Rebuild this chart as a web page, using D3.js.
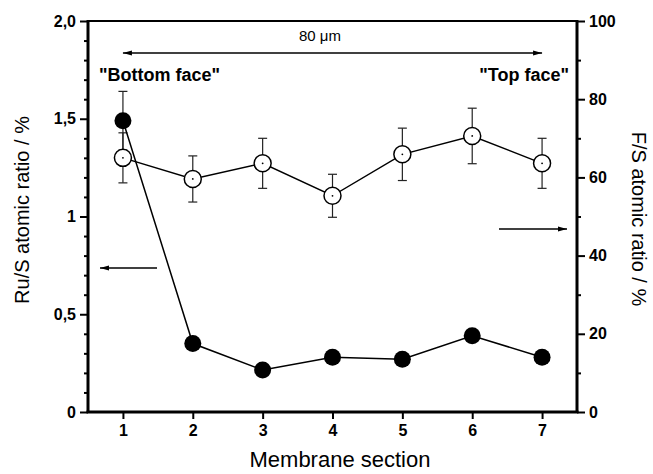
<!DOCTYPE html>
<html>
<head>
<meta charset="utf-8">
<script src="https://cdn.jsdelivr.net/npm/d3@7/dist/d3.min.js"></script>
<style>
  html, body { margin: 0; padding: 0; background: #fff; }
  svg { display: block; font-family: "Liberation Sans", Arial, sans-serif; }
</style>
</head>
<body>
<svg id="chart" width="653" height="474"></svg>
<script>
// Membrane sections along the thickness
const sections = [1, 2, 3, 4, 5, 6, 7];
// Ru/S atomic ratio (%), left axis, filled circles
const ruS = [1.49, 0.35, 0.215, 0.28, 0.27, 0.39, 0.28];
const ruSErr = [0.15, 0, 0, 0, 0, 0, 0];
// F/S atomic ratio (%), right axis, open circles
const fS = [65.0, 59.6, 63.6, 55.3, 65.9, 70.6, 63.6];
const fSErr = [6.4, 5.9, 6.4, 5.5, 6.7, 7.1, 6.4];
// Tick labels
const leftTicks = [0, 0.5, 1, 1.5, 2];
const leftTickLabels = ["0", "0,5", "1", "1,5", "2,0"];
const rightTicks = [0, 20, 40, 60, 80, 100];

const svg = d3.select("#chart");
const pLeft = 88, pRight = 577, pTop = 21, pBottom = 412;

const x = d3.scaleLinear().domain([0.5, 7.5]).range([pLeft, pRight]);
const yL = d3.scaleLinear().domain([0, 2]).range([pBottom, pTop]);
const yR = d3.scaleLinear().domain([0, 100]).range([pBottom, pTop]);

const defs = svg.append("defs");
function marker(id, orient) {
  defs.append("marker")
    .attr("id", id).attr("viewBox", "0 0 10 10")
    .attr("refX", 10).attr("refY", 5)
    .attr("markerWidth", 9).attr("markerHeight", 9)
    .attr("markerUnits", "userSpaceOnUse")
    .attr("orient", orient)
    .append("path").attr("d", "M0,2.2 L10,5 L0,7.8 Z").attr("fill", "#000");
}
marker("arrEnd", "auto");
marker("arrStart", "auto-start-reverse");

// frame top line
svg.append("line").attr("x1", pLeft).attr("x2", pRight).attr("y1", pTop).attr("y2", pTop)
  .attr("stroke", "#000").attr("stroke-width", 2);

// axes
function styleAxis(g) {
  g.select(".domain").remove();
  g.selectAll(".tick line").attr("stroke", "#000").attr("stroke-width", 2);
  g.selectAll(".tick text").attr("font-size", 16).attr("font-weight", "bold").attr("fill", "#000");
}

const minorL = d3.range(0, 2.0001, 0.1).filter(v => Math.abs(v * 2 - Math.round(v * 2)) > 1e-6);
svg.append("g").attr("transform", `translate(${pLeft},0)`)
  .call(d3.axisLeft(yL).tickValues(minorL).tickSize(4).tickFormat(""))
  .call(styleAxis);
svg.append("g").attr("transform", `translate(${pLeft},0)`)
  .call(d3.axisLeft(yL).tickValues(leftTicks).tickSize(8).tickPadding(4)
    .tickFormat((d, i) => leftTickLabels[i]))
  .call(styleAxis);

const minorR = [10, 30, 50, 70, 90];
svg.append("g").attr("transform", `translate(${pRight},0)`)
  .call(d3.axisRight(yR).tickValues(minorR).tickSize(4).tickFormat(""))
  .call(styleAxis);
svg.append("g").attr("transform", `translate(${pRight},0)`)
  .call(d3.axisRight(yR).tickValues(rightTicks).tickSize(8).tickPadding(4))
  .call(styleAxis);

svg.append("g").attr("transform", `translate(0,${pBottom})`)
  .call(d3.axisBottom(x).tickValues(sections).tickSize(7).tickPadding(6).tickFormat(d3.format("d")))
  .call(styleAxis);

// axis lines
svg.append("line").attr("x1", pLeft).attr("x2", pLeft).attr("y1", pTop - 1).attr("y2", pBottom + 1)
  .attr("stroke", "#000").attr("stroke-width", 3);
svg.append("line").attr("x1", pRight).attr("x2", pRight).attr("y1", pTop - 1).attr("y2", pBottom + 1)
  .attr("stroke", "#000").attr("stroke-width", 3);
svg.append("line").attr("x1", pLeft - 1.5).attr("x2", pRight + 1.5).attr("y1", pBottom).attr("y2", pBottom)
  .attr("stroke", "#000").attr("stroke-width", 3);

// axis titles
svg.append("text").attr("transform", "translate(29,210) rotate(-90)")
  .attr("text-anchor", "middle").attr("font-size", 20).text("Ru/S atomic ratio / %");
svg.append("text").attr("transform", "translate(632,219) rotate(90)")
  .attr("text-anchor", "middle").attr("font-size", 20).text("F/S atomic ratio / %");
svg.append("text").attr("x", 340).attr("y", 467)
  .attr("text-anchor", "middle").attr("font-size", 22).text("Membrane section");

// annotations
svg.append("line").attr("x1", x(1)).attr("x2", x(7)).attr("y1", 53).attr("y2", 53)
  .attr("stroke", "#000").attr("stroke-width", 1.5)
  .attr("marker-start", "url(#arrStart)").attr("marker-end", "url(#arrEnd)");
const um = svg.append("text").attr("x", 320).attr("y", 41).attr("text-anchor", "middle")
  .attr("font-size", 15);
um.append("tspan").text("80 ");
um.append("tspan").text("\u03bcm");
svg.append("text").attr("x", 99).attr("y", 81).attr("font-size", 18).attr("font-weight", "bold")
  .text("\"Bottom face\"");
svg.append("text").attr("x", 569).attr("y", 81).attr("text-anchor", "end").attr("font-size", 18)
  .attr("font-weight", "bold").text("\"Top face\"");
svg.append("line").attr("x1", 157).attr("x2", 100).attr("y1", 268).attr("y2", 268)
  .attr("stroke", "#000").attr("stroke-width", 1.5).attr("marker-end", "url(#arrEnd)");
svg.append("line").attr("x1", 499).attr("x2", 567).attr("y1", 229).attr("y2", 229)
  .attr("stroke", "#000").attr("stroke-width", 1.5).attr("marker-end", "url(#arrEnd)");

// error bars
function errorBars(vals, errs, y) {
  const g = svg.append("g").attr("stroke", "#222").attr("stroke-width", 1.2);
  sections.forEach((s, i) => {
    if (!errs[i]) return;
    const cx = x(s), y1 = y(vals[i] + errs[i]), y0 = y(vals[i] - errs[i]);
    g.append("line").attr("x1", cx).attr("x2", cx).attr("y1", y1).attr("y2", y0);
    g.append("line").attr("x1", cx - 4.5).attr("x2", cx + 4.5).attr("y1", y1).attr("y2", y1);
    g.append("line").attr("x1", cx - 4.5).attr("x2", cx + 4.5).attr("y1", y0).attr("y2", y0);
  });
}
errorBars(fS, fSErr, yR);
errorBars(ruS, ruSErr, yL);

// series lines
const lineR = d3.line().x((d, i) => x(sections[i])).y(d => yR(d));
const lineL = d3.line().x((d, i) => x(sections[i])).y(d => yL(d));
svg.append("path").attr("d", lineR(fS)).attr("fill", "none").attr("stroke", "#000").attr("stroke-width", 1.5);
svg.append("path").attr("d", lineL(ruS)).attr("fill", "none").attr("stroke", "#000").attr("stroke-width", 1.5);

// open circles (F/S)
const open = svg.append("g");
sections.forEach((s, i) => {
  open.append("circle").attr("cx", x(s)).attr("cy", yR(fS[i])).attr("r", 8.5)
    .attr("fill", "#fff").attr("stroke", "#000").attr("stroke-width", 1.5);
  open.append("circle").attr("cx", x(s)).attr("cy", yR(fS[i])).attr("r", 0.9).attr("fill", "#000");
});

// filled circles (Ru/S)
svg.append("g").selectAll("circle").data(ruS).join("circle")
  .attr("cx", (d, i) => x(sections[i])).attr("cy", d => yL(d)).attr("r", 8.5)
  .attr("fill", "#000");
</script>
</body>
</html>
